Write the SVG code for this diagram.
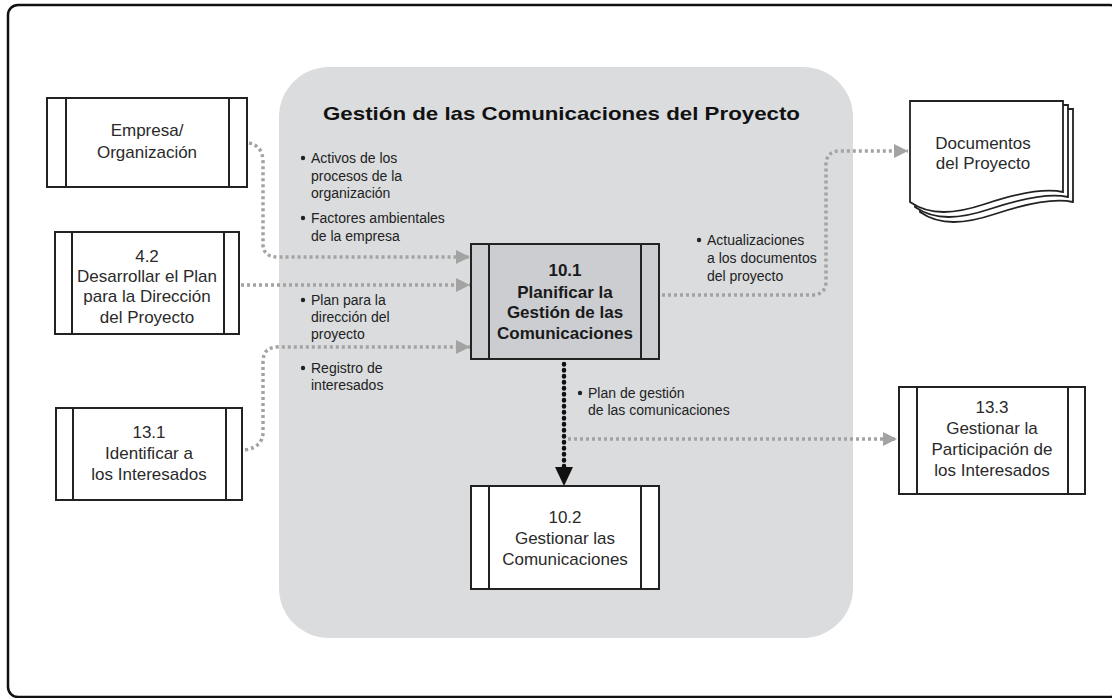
<svg xmlns="http://www.w3.org/2000/svg" width="1112" height="698" viewBox="0 0 1112 698">
  <defs>
    <style>
      .frame { fill: #ffffff; stroke: #111111; stroke-width: 2.5; }
      .panel { fill: #dadcde; stroke: none; }
      .box { fill: #ffffff; stroke: #222222; stroke-width: 2; }
      .boxg { fill: #cbcdd0; stroke: #222222; stroke-width: 2; }
      .bar { stroke: #222222; stroke-width: 2; fill: none; }
      .node { font-family: "Liberation Sans", Arial, sans-serif; font-size: 17px; fill: #2a2a2a; text-anchor: middle; }
      .nodeb { font-family: "Liberation Sans", Arial, sans-serif; font-size: 17px; font-weight: bold; fill: #1a1a1a; text-anchor: middle; }
      .title { font-family: "Liberation Sans", Arial, sans-serif; font-size: 19px; font-weight: bold; fill: #111111; }
      .lbl { font-family: "Liberation Sans", Arial, sans-serif; font-size: 14px; fill: #222222; }
      .dot { fill: #222222; }
      .cg { fill: none; stroke: #a3a3a3; stroke-width: 3.5; stroke-dasharray: 3 3; }
      .ck { fill: none; stroke: #111111; stroke-width: 4.5; stroke-linecap: round; stroke-dasharray: 0.5 5.5; }
      .doc { fill: #ffffff; stroke: #222222; stroke-width: 1.8; }
    </style>
    <marker id="arrG" markerUnits="userSpaceOnUse" markerWidth="16" markerHeight="16" viewBox="0 0 16 16" refX="15" refY="8" orient="auto">
      <path d="M1,1 L15,8 L1,15 Z" fill="#a3a3a3"/>
    </marker>
    <marker id="arrK" markerUnits="userSpaceOnUse" markerWidth="20" markerHeight="20" viewBox="0 0 20 20" refX="19" refY="10" orient="auto">
      <path d="M1,2 L19,10 L1,18 Z" fill="#111111"/>
    </marker>
  </defs>

  <rect class="frame" x="8" y="5" width="1112" height="692" rx="10"/>

  <g id="panel">
    <rect class="panel" x="279" y="67" width="574" height="571" rx="50"/>
    <text class="title" x="323" y="120" textLength="477" lengthAdjust="spacingAndGlyphs">Gestión de las Comunicaciones del Proyecto</text>
  </g>

  <g id="connectors">
    <path class="cg" d="M249,143 Q263,146 263,162 L263,244 Q263,257 278,257 L470,257" marker-end="url(#arrG)"/>
    <path class="cg" d="M241,285 L470,285" marker-end="url(#arrG)"/>
    <path class="cg" d="M245,450 Q263,447 263,432 L263,362 Q263,347 278,347 L470,347" marker-end="url(#arrG)"/>
    <path class="cg" d="M662,295 L812,295 Q826,295 826,281 L826,165 Q826,151 840,151 L908,151" marker-end="url(#arrG)"/>
    <path class="cg" d="M568,439 L897,439" marker-end="url(#arrG)"/>
    <path class="ck" d="M564,364 L564,469"/>
    <path d="M555,467 L573,467 L564,486 Z" fill="#111111"/>

    <g class="lbl">
      <circle class="dot" cx="303" cy="158" r="2.2"/>
      <text class="lbl" x="311" y="163">Activos de los</text>
      <text class="lbl" x="311" y="181">procesos de la</text>
      <text class="lbl" x="311" y="198">organización</text>
      <circle class="dot" cx="303" cy="218" r="2.2"/>
      <text class="lbl" x="311" y="223">Factores ambientales</text>
      <text class="lbl" x="311" y="241">de la empresa</text>
      <circle class="dot" cx="303" cy="300" r="2.2"/>
      <text class="lbl" x="311" y="305">Plan para la</text>
      <text class="lbl" x="311" y="322">dirección del</text>
      <text class="lbl" x="311" y="339">proyecto</text>
      <circle class="dot" cx="303" cy="368" r="2.2"/>
      <text class="lbl" x="311" y="373">Registro de</text>
      <text class="lbl" x="311" y="390">interesados</text>
      <circle class="dot" cx="699" cy="240" r="2.2"/>
      <text class="lbl" x="707" y="245">Actualizaciones</text>
      <text class="lbl" x="707" y="263">a los documentos</text>
      <text class="lbl" x="707" y="281">del proyecto</text>
      <circle class="dot" cx="580" cy="393" r="2.2"/>
      <text class="lbl" x="588" y="398">Plan de gestión</text>
      <text class="lbl" x="588" y="415">de las comunicaciones</text>
    </g>
  </g>

  <g id="n-empresa">
    <rect class="box" x="47" y="98" width="200" height="89"/>
    <line class="bar" x1="66" y1="98" x2="66" y2="187"/>
    <line class="bar" x1="229" y1="98" x2="229" y2="187"/>
    <text class="node" x="147" y="136">Empresa/</text>
    <text class="node" x="147" y="158">Organización</text>
  </g>

  <g id="n-4-2">
    <rect class="box" x="55" y="232" width="184" height="102"/>
    <line class="bar" x1="72" y1="232" x2="72" y2="334"/>
    <line class="bar" x1="224" y1="232" x2="224" y2="334"/>
    <text class="node" x="147" y="262">4.2</text>
    <text class="node" x="147" y="282">Desarrollar el Plan</text>
    <text class="node" x="147" y="302">para la Dirección</text>
    <text class="node" x="147" y="323">del Proyecto</text>
  </g>

  <g id="n-13-1">
    <rect class="box" x="56" y="408" width="186" height="92"/>
    <line class="bar" x1="73" y1="408" x2="73" y2="500"/>
    <line class="bar" x1="226" y1="408" x2="226" y2="500"/>
    <text class="node" x="149" y="438">13.1</text>
    <text class="node" x="149" y="459">Identificar a</text>
    <text class="node" x="149" y="480">los Interesados</text>
  </g>

  <g id="n-10-1">
    <rect class="boxg" x="471" y="244" width="188" height="115"/>
    <line class="bar" x1="489" y1="244" x2="489" y2="359"/>
    <line class="bar" x1="641" y1="244" x2="641" y2="359"/>
    <text class="nodeb" x="565" y="276">10.1</text>
    <text class="nodeb" x="565" y="298">Planificar la</text>
    <text class="nodeb" x="565" y="318">Gestión de las</text>
    <text class="nodeb" x="565" y="339">Comunicaciones</text>
  </g>

  <g id="n-10-2">
    <rect class="box" x="471" y="486" width="188" height="103"/>
    <line class="bar" x1="489" y1="486" x2="489" y2="589"/>
    <line class="bar" x1="641" y1="486" x2="641" y2="589"/>
    <text class="node" x="565" y="523">10.2</text>
    <text class="node" x="565" y="544">Gestionar las</text>
    <text class="node" x="565" y="565">Comunicaciones</text>
  </g>

  <g id="n-13-3">
    <rect class="box" x="899" y="387" width="186" height="107"/>
    <line class="bar" x1="917" y1="387" x2="917" y2="494"/>
    <line class="bar" x1="1068" y1="387" x2="1068" y2="494"/>
    <text class="node" x="992" y="413">13.3</text>
    <text class="node" x="992" y="434">Gestionar la</text>
    <text class="node" x="992" y="455">Participación de</text>
    <text class="node" x="992" y="476">los Interesados</text>
  </g>

  <g id="n-documentos">
    <path class="doc" d="M920,109 L1073,109 L1073,202 C1055,198 1025,204 995,214 C965,224 940,226 920,212 Z"/>
    <path class="doc" d="M915,105 L1068,105 L1068,197 C1050,193 1020,199 990,209 C960,219 935,221 915,207 Z"/>
    <path class="doc" d="M910,101 L1063,101 L1063,192 C1045,188 1015,194 985,204 C955,214 930,216 910,202 Z"/>
    <text class="node" x="983" y="149">Documentos</text>
    <text class="node" x="983" y="169">del Proyecto</text>
  </g>
</svg>
